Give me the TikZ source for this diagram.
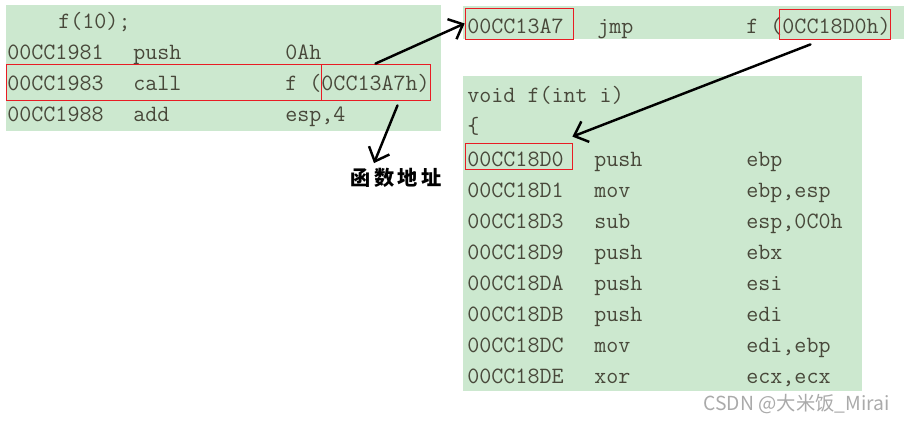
\documentclass[tikz,border=0pt]{standalone}
\usepackage{fontspec}
\newfontfamily\cjk{Noto Sans CJK SC}
\usetikzlibrary{arrows.meta,fit,calc}
\definecolor{codebg}{RGB}{204,232,207}
\definecolor{codefg}{RGB}{72,72,58}
\definecolor{markred}{RGB}{232,28,36}
\definecolor{wmgray}{RGB}{170,170,170}

\begin{document}
\begin{tikzpicture}[x=0.02cm,y=-0.02cm]
  \tikzstyle{code}=[anchor=base west,inner sep=0pt,text=codefg,font=\fontsize{13.3}{16}\selectfont\ttfamily]
  \tikzstyle{redbox}=[draw=markred,line width=0.45pt,inner sep=0pt]
  \tikzstyle{jump}=[-{Straight Barb[length=2.4mm,width=4.4mm]},line width=1.4pt,line cap=round]

  \useasboundingbox (0,0) rectangle (906,423);

  % code panels
  \fill[codebg] (6,5) rectangle (441,131);
  \fill[codebg] (463,6) rectangle (904,39);
  \fill[codebg] (463,76) rectangle (862,391);

  % caller
  \node [code] (caller) at (58,28) {f(10);};
  \foreach \i/\y/\a/\m/\o in {1/59/00CC1981/push/0Ah, 2/90/00CC1983/call/{f (0CC13A7h)}, 3/121/00CC1988/add/{esp,4}} {
    \node [code] (ca\i) at (7,\y) {\a};
    \node [code] (cm\i) at (133,\y) {\m};
    \node [code] (co\i) at (285,\y) {\o};
  }
  \node [redbox,fit={(6,64) (430,100)}] (callrow) {};
  \node [redbox,fit={(321,64) (430,100)}] (calltgt) {};

  % jump stub
  \node [code] (ja) at (467,33) {00CC13A7};
  \node [code] (jm) at (597,33) {jmp};
  \node [code] (jo) at (746,33) {f (0CC18D0h)};
  \node [redbox,fit={(465,8) (573,39)}] (jmpaddr) {};
  \node [redbox,fit={(779,9) (890,39)}] (jmptgt) {};

  % function body
  \node [code] (head) at (467,102) {void f(int i)};
  \node [code] (brace) at (467,133) {\{};
  \foreach \a/\m/\o [count=\i from 0] in {00CC18D0/push/ebp, 00CC18D1/mov/{ebp,esp}, 00CC18D3/sub/{esp,0C0h}, 00CC18D9/push/ebx, 00CC18DA/push/esi, 00CC18DB/push/edi, 00CC18DC/mov/{edi,ebp}, 00CC18DE/xor/{ecx,ecx}} {
    \node [code] (fa\i) at (467,{166+31*\i}) {\a};
    \node [code] (fm\i) at (594,{166+31*\i}) {\m};
    \node [code] (fo\i) at (746,{166+31*\i}) {\o};
  }
  \node [redbox,fit={(465,143) (572,169)}] (bodyaddr) {};

  \node [font=\cjk\bfseries\fontsize{11.5}{13}\selectfont] (addrlabel) at (396,178) {函\hspace{2pt}数\hspace{2pt}地\hspace{2pt}址};

  \draw [jump] (calltgt.north) -- (jmpaddr.west);
  \draw [jump] ($(calltgt.south)+(22,5)$) -- ($(addrlabel.north)+(-22,1)$);
  \draw [jump] ($(jmptgt.south)+(-24,5)$) -- ($(bodyaddr.north east)+(0,-6)$);

  \node [anchor=east,inner sep=0pt,text=wmgray,font=\cjk\fontsize{11}{13}\selectfont] (mark) at (890,404) {CSDN @大米饭\_Mirai};
\end{tikzpicture}
\end{document}
